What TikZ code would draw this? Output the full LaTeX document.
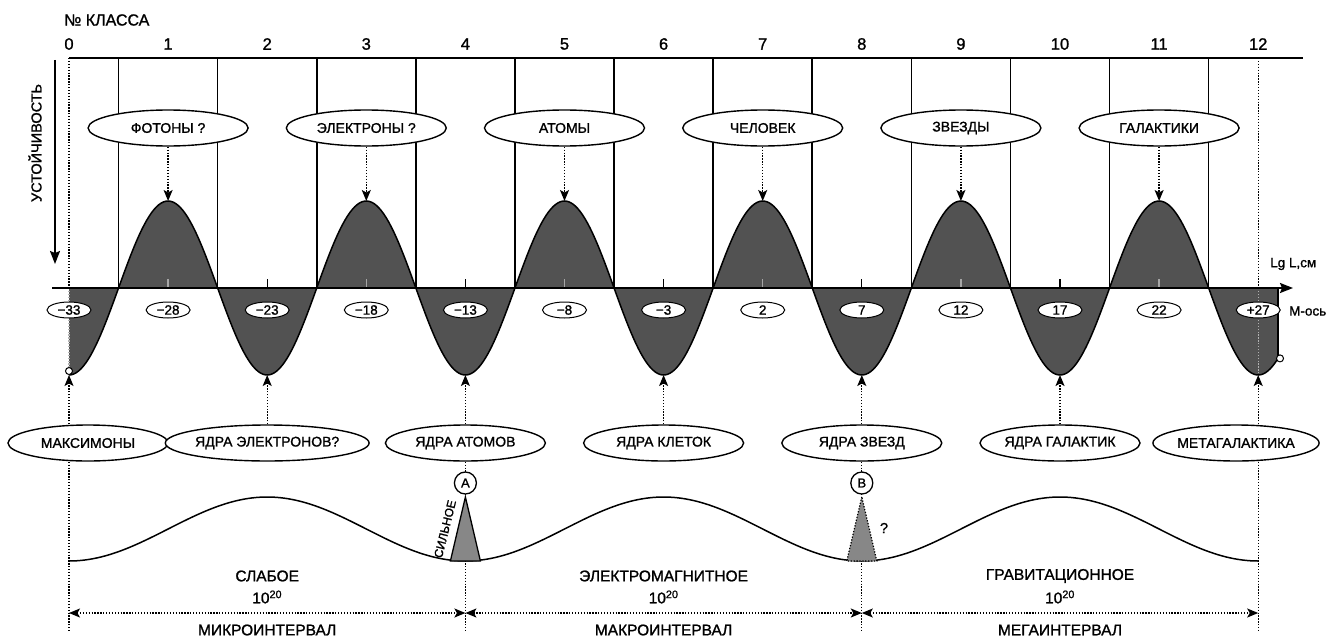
\documentclass[tikz,border=0pt]{standalone}
\usepackage{fontspec}
\setmainfont{Liberation Sans}[FakeBold=1.2]
\usetikzlibrary{shapes.geometric,arrows.meta}
\newcommand\fsz[1]{\fontsize{#1}{#1}\selectfont}
\begin{document}
\begin{tikzpicture}[x=1pt,y=-1pt,
  lbl/.style={ellipse,draw,fill=white,line width=1.4pt,minimum width=160pt,minimum height=36pt,inner sep=0pt,font=\fsz{14}},
  mlbl/.style={ellipse,draw,fill=white,line width=1pt,minimum width=44pt,minimum height=16pt,inner sep=0pt,font=\fsz{13.5}},
  numf/.style={font=\fsz{16.5},inner sep=0pt},
  bigt/.style={font=\fsz{15.5},inner sep=0pt},
  dots/.style={line width=1.3pt,dash pattern=on 1.3pt off 1.6pt},
  darr/.style={dots,-{Stealth[length=11pt,width=9pt,inset=2.5pt]}},
  iarr/.style={dots,{Stealth[length=11pt,width=9pt,inset=2.5pt]}-{Stealth[length=11pt,width=9pt,inset=2.5pt]}},
  solidl/.style={line width=1.6pt},
  wavefill/.style={fill=black!68},
  circ/.style={circle,draw,fill=white,line width=1.3pt,minimum size=22pt,inner sep=0pt,font=\fsz{13}},
  endc/.style={circle,draw,fill=white,line width=1pt,minimum size=7pt,inner sep=0pt},
  trifill/.style={fill=black!47}
]
\useasboundingbox (0,0) rectangle (1340,642);

% class positions
\foreach \i in {0,...,12}{
  \pgfmathsetmacro\xx{69+99.1*\i}
  \pgfmathsetmacro\yy{288+87*cos(180*\i)}
  \coordinate (w\i) at (\xx,\yy);
  \coordinate (k\i) at (\xx,288);
  \coordinate (tp\i) at (\xx,58);
  \coordinate (bt\i) at (\xx,630);
  \node[numf] (n\i) at (\xx,44) {\i};
}
\node[font=\fsz{16},anchor=west,inner sep=0pt] (kl) at (64,20) {№ КЛАССА};

% bottom label nodes
\node[lbl] (b0) at (88,443) {МАКСИМОНЫ};
\node[lbl] (b12) at (1236,443) {МЕТАГАЛАКТИКА};
\foreach \i/\t in {2/{ЯДРА ЭЛЕКТРОНОВ?},4/{ЯДРА АТОМОВ},6/{ЯДРА КЛЕТОК},8/{ЯДРА ЗВЕЗД},10/{ЯДРА ГАЛАКТИК}}{
  \path (k\i) ++(0,155) node[lbl] (b\i) {\t};
}

% long dotted verticals
\draw[dots] (tp0) -- (k0);
\draw[dots] (b0.south -| w0) -- (bt0);
\draw[dots] (tp12) -- (k12);
\draw[dots] (b12.south -| w12) -- (bt12);
\draw[dots] (b4.south) -- (bt4);
\draw[dots] (b8.south) -- (bt8);

% top line and half-class verticals
\coordinate (tend) at (1303,58);
\draw[line width=1.9pt] (tp0) -- (tend);
\foreach \i in {0,...,11}{
  \pgfmathsetmacro\xx{69+99.1*(\i+0.5)}
  \draw[solidl] (\xx,58) -- (\xx,288);
}

% stability arrow
\node[font=\fsz{14.5},rotate=90,inner sep=0pt] (ust) at (35,143) {УСТОЙЧИВОСТЬ};
\coordinate (sa) at (55,60);
\coordinate (sb) at (55,264);
\draw[line width=1.7pt,-{Stealth[length=13pt,width=10pt,inset=2pt]}] (sa) -- (sb);

% wave fill
\fill[wavefill] (69,288) -- plot[domain=0:12.2,samples=500] ({69+99.1*\x},{288+87*cos(180*\x)}) -- (1278.02,288) -- cycle;
\draw[dots,black!30] (k12) -- (w12);
% ticks
\foreach \i in {1,...,11}{
  \pgfmathsetmacro\xx{69+99.1*\i}
  \pgfmathtruncatemacro\od{mod(\i,2)}
  \ifnum\od=1
    \draw[line width=1.3pt,black!35] (\xx,279) -- (\xx,288);
  \else
    \draw[line width=1.3pt] (\xx,279) -- (\xx,288);
  \fi
}
\draw[line width=1.5pt] plot[domain=0:12.2,samples=500] ({69+99.1*\x},{288+87*cos(180*\x)});
\draw[dots,black!30] (k0) -- (w0);
\draw[line width=1.2pt] (1278.02,288) -- (1278.02,358.4);
\node[endc] (e0) at (69,371) {};
\node[endc] (e12) at (1280,358.4) {};

% axis
\coordinate (ax0) at (52,288);
\coordinate (ax1) at (1293,288);
\draw[line width=1.9pt,-{Stealth[length=13pt,width=10pt,inset=2pt]}] (ax0) -- (ax1);
\node[font=\fsz{13.5},anchor=west,inner sep=0pt] (lgl) at (1270,264) {Lg L,см};
\node[font=\fsz{13.5},anchor=west,inner sep=0pt] (mos) at (1289,311) {М-ось};

% M-axis labels
\foreach \i/\t in {0/{−33},1/{−28},2/{−23},3/{−18},4/{−13},5/{−8},6/{−3},7/{2},8/{7},9/{12},10/{17},11/{22},12/{+27}}{
  \path (k\i) ++(0,22) node[mlbl] (m\i) {\t};
}

% top labels
\foreach \i/\t in {1/{ФОТОНЫ ?},3/{ЭЛЕКТРОНЫ ?},5/{АТОМЫ},7/{ЧЕЛОВЕК},9/{ЗВЕЗДЫ},11/{ГАЛАКТИКИ}}{
  \path (k\i) ++(0,-160) node[lbl] (t\i) {\t};
  \draw[darr] (t\i) -- (w\i);
}

% bottom arrows
\foreach \i in {2,4,6,8,10}{
  \draw[darr] (b\i.north) -- (w\i);
}
\draw[darr] (b0.north -| w0) -- (w0);
\draw[darr] (b12.north -| w12) -- (w12);

% lower wave
\draw[line width=1.5pt] plot[domain=0:12,samples=300] ({69+99.1*\x},{529+32*cos(90*\x)});

% triangle A
\path (k4) ++(0,209) coordinate (Aa);
\path (k4) ++(-15,273) coordinate (Al);
\path (k4) ++(15,273) coordinate (Ar);
\filldraw[trifill,draw=black,line width=1.3pt] (Aa) -- (Al) -- (Ar) -- cycle;
\path (k4) ++(0,195) node[circ] (A) {A};
\node[font=\fsz{12},rotate=76,inner sep=0pt] (sil) at (445,529) {СИЛЬНОЕ};

% triangle B
\path (k8) ++(0,209) coordinate (Ba);
\path (k8) ++(-15,273) coordinate (Bl);
\path (k8) ++(15,273) coordinate (Br);
\fill[trifill] (Ba) -- (Bl) -- (Br) -- cycle;
\draw[dots,line width=1.2pt] (Ba) -- (Bl) -- (Br) -- cycle;
\path (k8) ++(0,195) node[circ] (B) {B};
\node[font=\fsz{14.5},inner sep=0pt] (q) at (884,528) {?};

% intervals
\foreach \i in {0,4,8,12}{ \path (k\i) ++(0,325) coordinate (iv\i); }
\draw[iarr] (iv0) -- (iv4);
\draw[iarr] (iv4) -- (iv8);
\draw[iarr] (iv8) -- (iv12);

% interaction labels
\path (k2) ++(0,288) node[bigt] (s1) {СЛАБОЕ};
\path (k2) ++(0,309) node[bigt] (s2) {10\textsuperscript{20}};
\path (k2) ++(0,342) node[bigt] (s3) {МИКРОИНТЕРВАЛ};
\path (k6) ++(0,288) node[bigt] (e1) {ЭЛЕКТРОМАГНИТНОЕ};
\path (k6) ++(0,309) node[bigt] (e2) {10\textsuperscript{20}};
\path (k6) ++(0,342) node[bigt] (e3) {МАКРОИНТЕРВАЛ};
\path (k10) ++(0,288) node[bigt] (g1) {ГРАВИТАЦИОННОЕ};
\path (k10) ++(0,309) node[bigt] (g2) {10\textsuperscript{20}};
\path (k10) ++(0,342) node[bigt] (g3) {МЕГАИНТЕРВАЛ};
\end{tikzpicture}
\end{document}
